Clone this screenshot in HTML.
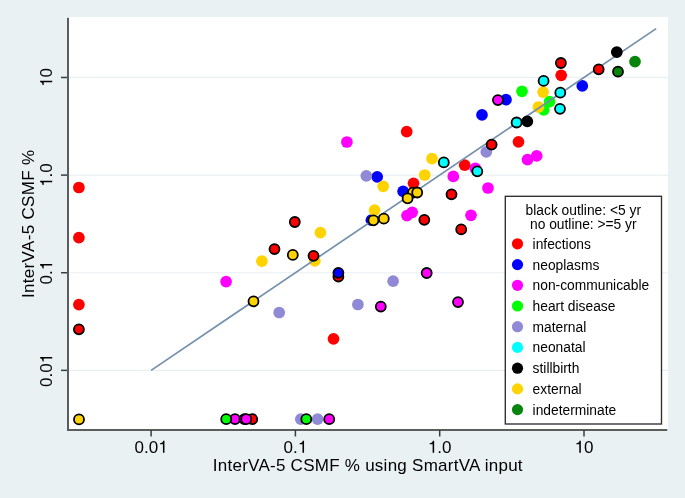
<!DOCTYPE html><html><head><meta charset="utf-8"><style>html,body{margin:0;padding:0;background:#EAF1F3;}svg{display:block;will-change:transform;}text{font-family:"Liberation Sans",sans-serif;}</style></head><body>
<svg width="685" height="498" viewBox="0 0 685 498">
<rect x="0" y="0" width="685" height="498" fill="#EAF1F3"/>
<rect x="67" y="17" width="601" height="413" fill="#FFFFFF"/>
<line x1="68" y1="370.36" x2="668" y2="370.36" stroke="#E8F0F2" stroke-width="1.2"/>
<line x1="68" y1="272.73" x2="668" y2="272.73" stroke="#E8F0F2" stroke-width="1.2"/>
<line x1="68" y1="175.10" x2="668" y2="175.10" stroke="#E8F0F2" stroke-width="1.2"/>
<line x1="68" y1="77.47" x2="668" y2="77.47" stroke="#E8F0F2" stroke-width="1.2"/>
<circle cx="78.9" cy="187.5" r="5.85" fill="#FF0000"/>
<circle cx="78.9" cy="237.7" r="5.85" fill="#FF0000"/>
<circle cx="78.9" cy="304.6" r="5.85" fill="#FF0000"/>
<circle cx="333.5" cy="338.8" r="5.85" fill="#FF0000"/>
<circle cx="406.7" cy="131.6" r="5.85" fill="#FF0000"/>
<circle cx="413.5" cy="183.3" r="5.85" fill="#FF0000"/>
<circle cx="464.7" cy="165.2" r="5.85" fill="#FF0000"/>
<circle cx="518.5" cy="141.8" r="5.85" fill="#FF0000"/>
<circle cx="561.2" cy="75.3" r="5.85" fill="#FF0000"/>
<circle cx="377.2" cy="176.8" r="5.85" fill="#0000FF"/>
<circle cx="371.4" cy="220.2" r="5.85" fill="#0000FF"/>
<circle cx="403.1" cy="191.4" r="5.85" fill="#0000FF"/>
<circle cx="506.0" cy="99.7" r="5.85" fill="#0000FF"/>
<circle cx="482.0" cy="114.9" r="5.85" fill="#0000FF"/>
<circle cx="582.3" cy="85.9" r="5.85" fill="#0000FF"/>
<circle cx="226.1" cy="281.6" r="5.85" fill="#FF00FF"/>
<circle cx="346.9" cy="142.0" r="5.85" fill="#FF00FF"/>
<circle cx="407.0" cy="215.6" r="5.85" fill="#FF00FF"/>
<circle cx="412.2" cy="212.3" r="5.85" fill="#FF00FF"/>
<circle cx="475.4" cy="168.4" r="5.85" fill="#FF00FF"/>
<circle cx="453.3" cy="176.4" r="5.85" fill="#FF00FF"/>
<circle cx="488.0" cy="188.0" r="5.85" fill="#FF00FF"/>
<circle cx="471.0" cy="215.3" r="5.85" fill="#FF00FF"/>
<circle cx="527.5" cy="159.6" r="5.85" fill="#FF00FF"/>
<circle cx="536.7" cy="155.9" r="5.85" fill="#FF00FF"/>
<circle cx="522.0" cy="91.3" r="5.85" fill="#00FF00"/>
<circle cx="549.5" cy="101.7" r="5.85" fill="#00FF00"/>
<circle cx="543.7" cy="109.9" r="5.85" fill="#00FF00"/>
<circle cx="300.8" cy="419.2" r="5.85" fill="#8F89D6"/>
<circle cx="317.6" cy="419.2" r="5.85" fill="#8F89D6"/>
<circle cx="279.2" cy="312.5" r="5.85" fill="#8F89D6"/>
<circle cx="357.9" cy="304.5" r="5.85" fill="#8F89D6"/>
<circle cx="393.1" cy="281.2" r="5.85" fill="#8F89D6"/>
<circle cx="366.3" cy="175.8" r="5.85" fill="#8F89D6"/>
<circle cx="486.3" cy="151.9" r="5.85" fill="#8F89D6"/>
<circle cx="261.9" cy="261.2" r="5.85" fill="#FFD300"/>
<circle cx="320.4" cy="232.7" r="5.85" fill="#FFD300"/>
<circle cx="314.8" cy="260.9" r="5.85" fill="#FFD300"/>
<circle cx="383.2" cy="186.3" r="5.85" fill="#FFD300"/>
<circle cx="374.6" cy="210.2" r="5.85" fill="#FFD300"/>
<circle cx="424.7" cy="175.0" r="5.85" fill="#FFD300"/>
<circle cx="432.0" cy="158.7" r="5.85" fill="#FFD300"/>
<circle cx="543.1" cy="92.1" r="5.85" fill="#FFD300"/>
<circle cx="538.5" cy="107.0" r="5.85" fill="#FFD300"/>
<circle cx="635.0" cy="61.6" r="5.85" fill="#06840C"/>
<line x1="151.10" y1="370.36" x2="656.15" y2="28.66" stroke="#7490AC" stroke-width="1.7"/>
<circle cx="78.9" cy="329.3" r="5" fill="#FF0000" stroke="#000" stroke-width="1.8"/>
<circle cx="252.2" cy="419.2" r="5" fill="#FF0000" stroke="#000" stroke-width="1.8"/>
<circle cx="274.5" cy="249.1" r="5" fill="#FF0000" stroke="#000" stroke-width="1.8"/>
<circle cx="294.8" cy="222.0" r="5" fill="#FF0000" stroke="#000" stroke-width="1.8"/>
<circle cx="313.5" cy="255.8" r="5" fill="#FF0000" stroke="#000" stroke-width="1.8"/>
<circle cx="338.4" cy="276.6" r="5" fill="#FF0000" stroke="#000" stroke-width="1.8"/>
<circle cx="424.3" cy="219.8" r="5" fill="#FF0000" stroke="#000" stroke-width="1.8"/>
<circle cx="491.6" cy="144.6" r="5" fill="#FF0000" stroke="#000" stroke-width="1.8"/>
<circle cx="451.5" cy="194.3" r="5" fill="#FF0000" stroke="#000" stroke-width="1.8"/>
<circle cx="461.2" cy="229.4" r="5" fill="#FF0000" stroke="#000" stroke-width="1.8"/>
<circle cx="560.9" cy="63.0" r="5" fill="#FF0000" stroke="#000" stroke-width="1.8"/>
<circle cx="598.7" cy="69.3" r="5" fill="#FF0000" stroke="#000" stroke-width="1.8"/>
<circle cx="338.4" cy="272.8" r="5" fill="#0000FF" stroke="#000" stroke-width="1.8"/>
<circle cx="235.0" cy="419.2" r="5" fill="#FF00FF" stroke="#000" stroke-width="1.8"/>
<circle cx="244.4" cy="419.2" r="5" fill="#FF00FF" stroke="#000" stroke-width="1.8"/>
<circle cx="246.2" cy="419.2" r="5" fill="#FF00FF" stroke="#000" stroke-width="1.8"/>
<circle cx="329.2" cy="419.2" r="5" fill="#FF00FF" stroke="#000" stroke-width="1.8"/>
<circle cx="380.8" cy="306.6" r="5" fill="#FF00FF" stroke="#000" stroke-width="1.8"/>
<circle cx="426.7" cy="273.0" r="5" fill="#FF00FF" stroke="#000" stroke-width="1.8"/>
<circle cx="458.0" cy="302.1" r="5" fill="#FF00FF" stroke="#000" stroke-width="1.8"/>
<circle cx="497.9" cy="100.1" r="5" fill="#FF00FF" stroke="#000" stroke-width="1.8"/>
<circle cx="226.2" cy="419.2" r="5" fill="#00FF00" stroke="#000" stroke-width="1.8"/>
<circle cx="306.3" cy="419.2" r="5" fill="#00FF00" stroke="#000" stroke-width="1.8"/>
<circle cx="443.8" cy="162.4" r="5" fill="#00FFFF" stroke="#000" stroke-width="1.8"/>
<circle cx="477.3" cy="171.3" r="5" fill="#00FFFF" stroke="#000" stroke-width="1.8"/>
<circle cx="516.6" cy="122.5" r="5" fill="#00FFFF" stroke="#000" stroke-width="1.8"/>
<circle cx="543.6" cy="80.9" r="5" fill="#00FFFF" stroke="#000" stroke-width="1.8"/>
<circle cx="560.3" cy="92.7" r="5" fill="#00FFFF" stroke="#000" stroke-width="1.8"/>
<circle cx="560.0" cy="108.8" r="5" fill="#00FFFF" stroke="#000" stroke-width="1.8"/>
<circle cx="527.3" cy="121.3" r="5" fill="#000000" stroke="#000" stroke-width="1.8"/>
<circle cx="616.8" cy="52.1" r="5" fill="#000000" stroke="#000" stroke-width="1.8"/>
<circle cx="79.0" cy="419.4" r="5" fill="#FFD300" stroke="#000" stroke-width="1.8"/>
<circle cx="292.8" cy="254.9" r="5" fill="#FFD300" stroke="#000" stroke-width="1.8"/>
<circle cx="253.5" cy="301.3" r="5" fill="#FFD300" stroke="#000" stroke-width="1.8"/>
<circle cx="373.4" cy="220.3" r="5" fill="#FFD300" stroke="#000" stroke-width="1.8"/>
<circle cx="383.8" cy="218.7" r="5" fill="#FFD300" stroke="#000" stroke-width="1.8"/>
<circle cx="413.0" cy="192.6" r="5" fill="#FFD300" stroke="#000" stroke-width="1.8"/>
<circle cx="417.2" cy="192.5" r="5" fill="#FFD300" stroke="#000" stroke-width="1.8"/>
<circle cx="407.6" cy="198.3" r="5" fill="#FFD300" stroke="#000" stroke-width="1.8"/>
<circle cx="618.0" cy="71.7" r="5" fill="#06840C" stroke="#000" stroke-width="1.8"/>
<line x1="68" y1="17.7" x2="68" y2="431" stroke="#5A5E5F" stroke-width="2"/>
<line x1="67" y1="430" x2="667.3" y2="430" stroke="#5A5E5F" stroke-width="2"/>
<line x1="61" y1="370.36" x2="67" y2="370.36" stroke="#3A3D3E" stroke-width="1.5"/>
<g transform="translate(52.20,370.36) rotate(-90)" fill="#000"><text x="-16.541" y="0" font-size="17">0</text><text x="-7.089" y="0" font-size="17">.</text><text x="-2.363" y="0" font-size="17">0</text><path transform="translate(7.089,0) scale(0.01700,-0.01700)" d="M369 0L279 0L279 500L109 500L109 567C220 572 270 600 293 709L369 709Z"/></g>
<line x1="61" y1="272.73" x2="67" y2="272.73" stroke="#3A3D3E" stroke-width="1.5"/>
<g transform="translate(52.20,272.73) rotate(-90)" fill="#000"><text x="-11.815" y="0" font-size="17">0</text><text x="-2.363" y="0" font-size="17">.</text><path transform="translate(2.363,0) scale(0.01700,-0.01700)" d="M369 0L279 0L279 500L109 500L109 567C220 572 270 600 293 709L369 709Z"/></g>
<line x1="61" y1="175.10" x2="67" y2="175.10" stroke="#3A3D3E" stroke-width="1.5"/>
<g transform="translate(52.20,175.10) rotate(-90)" fill="#000"><path transform="translate(-11.815,0) scale(0.01700,-0.01700)" d="M369 0L279 0L279 500L109 500L109 567C220 572 270 600 293 709L369 709Z"/><text x="-2.363" y="0" font-size="17">.</text><text x="2.363" y="0" font-size="17">0</text></g>
<line x1="61" y1="77.47" x2="67" y2="77.47" stroke="#3A3D3E" stroke-width="1.5"/>
<g transform="translate(52.20,77.47) rotate(-90)" fill="#000"><path transform="translate(-9.452,0) scale(0.01700,-0.01700)" d="M369 0L279 0L279 500L109 500L109 567C220 572 270 600 293 709L369 709Z"/><text x="0.000" y="0" font-size="17">0</text></g>
<line x1="151.10" y1="430" x2="151.10" y2="436.5" stroke="#3A3D3E" stroke-width="1.5"/>
<g transform="translate(151.10,452.80)" fill="#000"><text x="-16.541" y="0" font-size="17">0</text><text x="-7.089" y="0" font-size="17">.</text><text x="-2.363" y="0" font-size="17">0</text><path transform="translate(7.089,0) scale(0.01700,-0.01700)" d="M369 0L279 0L279 500L109 500L109 567C220 572 270 600 293 709L369 709Z"/></g>
<line x1="295.40" y1="430" x2="295.40" y2="436.5" stroke="#3A3D3E" stroke-width="1.5"/>
<g transform="translate(295.40,452.80)" fill="#000"><text x="-11.815" y="0" font-size="17">0</text><text x="-2.363" y="0" font-size="17">.</text><path transform="translate(2.363,0) scale(0.01700,-0.01700)" d="M369 0L279 0L279 500L109 500L109 567C220 572 270 600 293 709L369 709Z"/></g>
<line x1="439.70" y1="430" x2="439.70" y2="436.5" stroke="#3A3D3E" stroke-width="1.5"/>
<g transform="translate(439.70,452.80)" fill="#000"><path transform="translate(-11.815,0) scale(0.01700,-0.01700)" d="M369 0L279 0L279 500L109 500L109 567C220 572 270 600 293 709L369 709Z"/><text x="-2.363" y="0" font-size="17">.</text><text x="2.363" y="0" font-size="17">0</text></g>
<line x1="584.00" y1="430" x2="584.00" y2="436.5" stroke="#3A3D3E" stroke-width="1.5"/>
<g transform="translate(584.00,452.80)" fill="#000"><path transform="translate(-9.452,0) scale(0.01700,-0.01700)" d="M369 0L279 0L279 500L109 500L109 567C220 572 270 600 293 709L369 709Z"/><text x="0.000" y="0" font-size="17">0</text></g>
<text x="367.8" y="471.1" text-anchor="middle" font-size="17" fill="#000" letter-spacing="0.26">InterVA-5 CSMF % using SmartVA input</text>
<text transform="translate(33.5,223.8) rotate(-90)" text-anchor="middle" font-size="17" fill="#000" letter-spacing="0.33">InterVA-5 CSMF %</text>
<rect x="505.3" y="196.3" width="156.2" height="227.7" fill="#fff" stroke="#2E2E2E" stroke-width="1.35"/>
<text x="583.3" y="214.7" text-anchor="middle" font-size="13.8" fill="#000">black outline: &lt;5 yr</text>
<text x="583.3" y="228.6" text-anchor="middle" font-size="13.8" fill="#000">no outline: &gt;=5 yr</text>
<circle cx="517.5" cy="243.8" r="5.6" fill="#FF0000"/>
<text x="532.6" y="248.8" font-size="13.8" fill="#000">infections</text>
<circle cx="517.5" cy="264.6" r="5.6" fill="#0000FF"/>
<text x="532.6" y="269.5" font-size="13.8" fill="#000">neoplasms</text>
<circle cx="517.5" cy="285.3" r="5.6" fill="#FF00FF"/>
<text x="532.6" y="290.2" font-size="13.8" fill="#000">non-communicable</text>
<circle cx="517.5" cy="306.0" r="5.6" fill="#00FF00"/>
<text x="532.6" y="310.9" font-size="13.8" fill="#000">heart disease</text>
<circle cx="517.5" cy="326.7" r="5.6" fill="#8F89D6"/>
<text x="532.6" y="331.6" font-size="13.8" fill="#000">maternal</text>
<circle cx="517.5" cy="347.4" r="5.6" fill="#00FFFF"/>
<text x="532.6" y="352.3" font-size="13.8" fill="#000">neonatal</text>
<circle cx="517.5" cy="368.2" r="5.6" fill="#000000"/>
<text x="532.6" y="373.1" font-size="13.8" fill="#000">stillbirth</text>
<circle cx="517.5" cy="388.9" r="5.6" fill="#FFD300"/>
<text x="532.6" y="393.8" font-size="13.8" fill="#000">external</text>
<circle cx="517.5" cy="409.6" r="5.6" fill="#06840C"/>
<text x="532.6" y="414.5" font-size="13.8" fill="#000">indeterminate</text>
</svg></body></html>
